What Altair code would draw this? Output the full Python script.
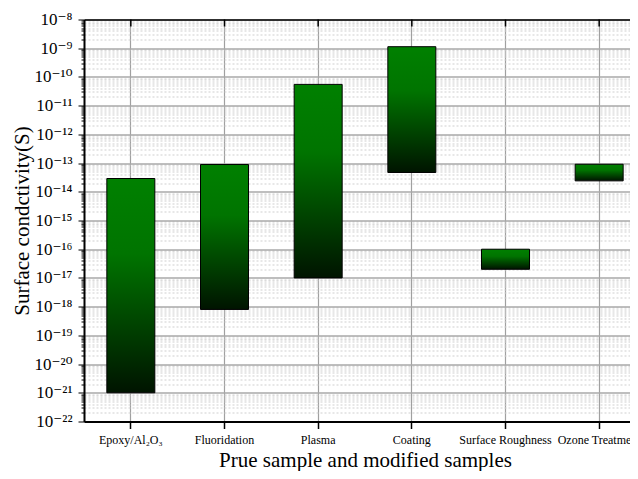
import json
import altair as alt
import pandas as pd

# ---- data ----
categories = ["Epoxy/Al₂O₃", "Fluoridation", "Plasma", "Coating",
              "Surface Roughness", "Ozone Treatment"]
low_values = [1.0e-21, 8.0e-19, 1.0e-17, 4.7e-14, 2.0e-17, 2.4e-14]
high_values = [2.9e-14, 8.9e-14, 5.5e-11, 1.13e-9, 1.0e-16, 9.1e-14]

exponents = list(range(-8, -23, -1))
SUP = str.maketrans("-0123456789", "⁻⁰¹²³⁴⁵⁶⁷⁸⁹")
y_tick_labels = ["10" + str(e).translate(SUP) for e in exponents]
major_ticks = [10.0 ** e for e in exponents]
minor_ticks = [m * 10.0 ** e for e in range(-22, -8) for m in range(2, 10)]
tick_values = sorted(major_ticks + minor_ticks)

df = pd.DataFrame({"category": categories, "low": low_values, "high": high_values})

is_major = "abs(log(datum.value)/LN10 - round(log(datum.value)/LN10)) < 1e-6"
label_expr = (f"{is_major} ? {json.dumps(y_tick_labels, ensure_ascii=False)}"
              f"[-round(log(datum.value)/LN10) - 8] : ''")

FONT = "Liberation Serif, DejaVu Serif"

PLOT_W = 546      # visible plot width (the reference is cropped on the right)
BAND_RANGE = 562  # full extent of the category scale

gradient = alt.LinearGradient(
    gradient="linear",
    stops=[alt.GradientStop(color="#008000", offset=0),
           alt.GradientStop(color="#007400", offset=0.35),
           alt.GradientStop(color="#001400", offset=1)],
    x1=0, x2=0, y1=0, y2=1)

x_scale = alt.Scale(paddingInner=0, paddingOuter=0, range=[0, BAND_RANGE])

x_enc = alt.X(
    "category:N", sort=categories, scale=x_scale,
    axis=alt.Axis(
        title="Prue sample and modified samples",
        labelAngle=0, bandPosition=0.5, grid=True,
        gridColor="#a0a0a0", gridWidth=1.2,
        domainColor="black", domainWidth=2,
        tickColor="black", tickSize=7, tickWidth=1.5,
        labelPadding=6, labelFont=FONT, labelFontSize=12, labelColor="black",
        labelOverlap=False,
        titleFont=FONT, titleFontSize=21, titleFontWeight="normal",
        titleColor="black", titleX=BAND_RANGE / 2, titleY=45,
        titleBaseline="alphabetic", titleAlign="center"))

y_enc = alt.Y(
    "low:Q",
    scale=alt.Scale(type="log", domain=[1e-22, 1e-8], nice=False),
    axis=alt.Axis(
        title="Surface condctivity(S)",
        values=tick_values, labelExpr=label_expr, labelOverlap=False,
        grid=True,
        gridColor={"condition": {"test": is_major, "value": "#a8a8a8"}, "value": "#cfcfcf"},
        gridDash={"condition": {"test": is_major, "value": []}, "value": [2, 2]},
        gridWidth={"condition": {"test": is_major, "value": 1.6}, "value": 1},
        domainColor="black", domainWidth=2,
        tickColor="black", tickWidth=1,
        tickSize={"condition": {"test": is_major, "value": 6}, "value": 3},
        labelPadding=6, labelFont=FONT, labelFontSize=17, labelColor="black",
        labelBaseline="middle",
        titleFont=FONT, titleFontSize=21, titleFontWeight="normal",
        titleColor="black", titleX=-62, titleY=201, titleAngle=-90,
        titleAlign="center", titleBaseline="middle"))

bars = alt.Chart(df).mark_bar(
    size=48, stroke="black", strokeWidth=1, fill=gradient, clip=True
).encode(x=x_enc, y=y_enc, y2="high:Q")

top_ticks = alt.Chart(df).mark_rule(color="black", strokeWidth=1.5).encode(
    x=alt.X("category:N", sort=categories, scale=x_scale,
            axis=alt.Axis(orient="top", labels=False, ticks=False, grid=False,
                          domain=True, domainColor="black", domainWidth=1.5,
                          title=None)),
    y=alt.value(0), y2=alt.value(7))

chart = alt.layer(bars, top_ticks).resolve_axis(x="independent").properties(
    width=PLOT_W, height=402,
    autosize=alt.AutoSizeParams(type="none"),
    padding={"left": 76, "top": 11.5, "right": 0, "bottom": 49.5},
    background="white",
).configure_view(strokeOpacity=0)

chart.save("out.html", embed_options={"renderer": "svg", "actions": False})
